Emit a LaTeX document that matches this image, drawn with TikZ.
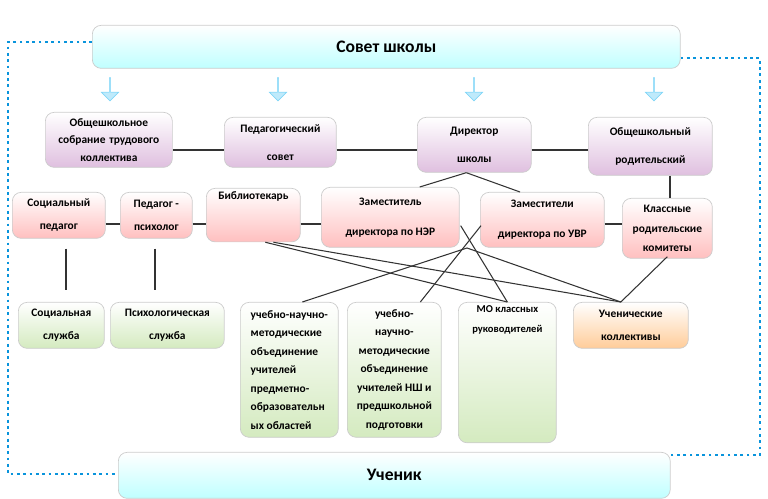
\documentclass[tikz,border=0pt]{standalone}
\usepackage{fontspec}
\setmainfont{Carlito}
\usetikzlibrary{positioning, shapes.arrows, calc}

\begin{document}
\begin{tikzpicture}[
    x=0.02cm, y=-0.02cm,
    font=\bfseries\fontsize{6.5}{10}\selectfont,
    card/.style={draw=gray!40, rounded corners=5pt, align=center, anchor=north west, inner sep=2pt},
    violetbox/.style={card, top color=white, bottom color=violet!25},
    pinkbox/.style={card, top color=white, bottom color=red!25},
    greenbox/.style={card, top color=white, bottom color=green!35!olive!25},
    orangebox/.style={card, top color=white, bottom color=orange!40},
    bluebox/.style={card, top color=white, bottom color=cyan!25, font=\bfseries\fontsize{10}{12}\selectfont},
    downarrow/.style={single arrow, shape border rotate=270, draw=cyan!50, fill=cyan!25, single arrow head extend=2.5pt, minimum width=0.34cm, minimum height=0.46cm, inner xsep=0pt, inner ysep=3pt},
    link/.style={draw=black!80, line width=0.6pt},
    frame/.style={draw=cyan!80!blue, line width=1.6pt, dotted}
]
    \useasboundingbox (0,0) rectangle (768,499);

    % council and pupil
    \node[bluebox, minimum width=11.76cm, minimum height=0.86cm] (council) at (92,25) {Совет школы};
    \node[bluebox, minimum width=11.04cm, minimum height=0.92cm] (pupil) at (118,452) {Ученик};

    % dotted frame
    \draw[frame] (council.west |- 0,42) -- (8,42) -- (8,474) -- (pupil.west |- 0,474);
    \draw[frame] (council.east |- 0,58) -- (760,58) -- (760,455) -- (pupil.east |- 0,455);

    % arrows from the council
    \foreach \ax [count=\i] in {110,278,474,654}
        \node[downarrow] (arr\i) at (\ax,89) {};

    % first row
    \node[violetbox, minimum width=2.54cm, minimum height=1.1cm, text width=2.4cm] (assembly) at (45,112) {Общешкольное\\собрание трудового\\коллектива};
    \node[violetbox, minimum width=2.24cm, minimum height=1cm, font=\bfseries\fontsize{6.5}{16}\selectfont] (pedcouncil) at (224,117) {Педагогический\\совет};
    \node[violetbox, minimum width=2.28cm, minimum height=1.1cm, font=\bfseries\fontsize{6.5}{16}\selectfont] (director) at (417,117) {Директор\\школы};
    \node[violetbox, minimum width=2.48cm, minimum height=1.16cm, font=\bfseries\fontsize{6.5}{16}\selectfont] (parents) at (588,117) {Общешкольный\\родительский};

    % second row
    \node[pinkbox, minimum width=1.86cm, minimum height=0.92cm, font=\bfseries\fontsize{6.5}{13}\selectfont] (socped) at (12,192) {Социальный\\педагог};
    \node[pinkbox, minimum width=1.44cm, minimum height=0.92cm, font=\bfseries\fontsize{6.5}{13}\selectfont] (psych) at (120,192) {Педагог -\\психолог};
    \node[pinkbox, minimum width=1.88cm, minimum height=0.98cm, anchor=north west, align=left] (library) at (206,188) {Библиотекарь\\[12pt]\mbox{}};
    \node[pinkbox, minimum width=2.76cm, minimum height=1.2cm, font=\bfseries\fontsize{6.5}{17}\selectfont] (deputyNER) at (321,187) {Заместитель\\директора по НЭР};
    \node[pinkbox, minimum width=2.48cm, minimum height=1.1cm, font=\bfseries\fontsize{6.5}{17}\selectfont] (deputyUVR) at (480,192) {Заместители\\директора по УВР};
    \node[pinkbox, minimum width=1.8cm, minimum height=1.2cm, font=\bfseries\fontsize{6.5}{11}\selectfont] (classpar) at (622,198) {Классные\\родительские\\комитеты};

    % third row
    \node[greenbox, minimum width=1.72cm, minimum height=0.92cm, font=\bfseries\fontsize{6.5}{13}\selectfont] (socserv) at (18,302) {Социальная\\служба};
    \node[greenbox, minimum width=2.28cm, minimum height=0.92cm, font=\bfseries\fontsize{6.5}{13}\selectfont] (psychserv) at (110,302) {Психологическая\\служба};
    \node[greenbox, minimum width=1.96cm, minimum height=2.7cm, align=left, font=\bfseries\fontsize{6.5}{10.5}\selectfont, anchor=north west] (unit1) at (240,302) {учебно-научно-\\методические\\объединение\\учителей\\предметно-\\образовательн\\ых областей};
    \node[greenbox, minimum width=1.88cm, minimum height=2.7cm, font=\bfseries\fontsize{6.5}{10.5}\selectfont] (unit2) at (347,302) {учебно-\\научно-\\методические\\объединение\\учителей НШ и\\предшкольной\\подготовки};
    \node[greenbox, minimum width=1.96cm, minimum height=2.62cm, font=\bfseries\fontsize{6}{11}\selectfont] (mo) at (458,302) {МО классных\\руководителей\\[50pt]\mbox{}};
    \node[orangebox, minimum width=2.3cm, minimum height=0.92cm, font=\bfseries\fontsize{6.5}{13}\selectfont] (pupilgroups) at (573,302) {Ученические\\коллективы};

    % connectors
    \draw[link] (assembly.east |- 0,150) -- (pedcouncil.west |- 0,150);
    \draw[link] (pedcouncil.east |- 0,150) -- (director.west |- 0,150);
    \draw[link] (director.east |- 0,150) -- (parents.west |- 0,150);
    \draw[link] ($(director.south)+(-8,0)$) -- ($(deputyNER.north east)+(-40,0)$);
    \draw[link] ($(director.south)+(-8,0)$) -- ($(deputyUVR.north west)+(40,0)$);
    \draw[link] (parents.south -| 670,0) -- (classpar.north -| 670,0);
    \draw[link] (socped.east |- 0,224) -- (psych.west |- 0,224);
    \draw[link] (psych.east |- 0,224) -- (library.west |- 0,224);
    \draw[link] (library.east |- 0,224) -- (deputyNER.west |- 0,224);
    \draw[link] (deputyUVR.east |- 0,224) -- (classpar.west |- 0,224);
    \coordinate (socend) at (66,290);
    \coordinate (psyend) at (155,290);
    \draw[link] (socped.south -| socend) ++(0,10) -- (socend);
    \draw[link] (psych.south -| psyend) ++(0,10) -- (psyend);
    \coordinate (cross) at (467,248);
    \draw[link] ($(library.south)+(12,0)$) -- (mo.north);
    \draw[link] ($(library.south)+(20,0)$) -- ($(pupilgroups.north)+(-10,0)$);
    \draw[link] ($(deputyNER.south east)+(1,-22)$) -- (mo.north);
    \draw[link] ($(deputyUVR.south west)+(1,-22)$) -- ($(unit2.north)+(26,0)$);
    \draw[link] (cross) -- ($(unit1.north)+(13,0)$);
    \draw[link] (cross) -- ($(pupilgroups.north)+(-10,0)$);
    \draw[link] ($(classpar.south)+(0,-2)$) -- ($(pupilgroups.north)+(-10,0)$);
\end{tikzpicture}
\end{document}
